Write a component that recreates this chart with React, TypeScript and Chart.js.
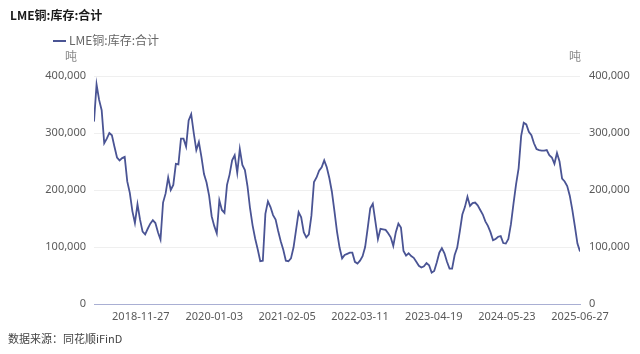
import React, { useEffect, useRef } from 'react';
import { Chart, registerables } from 'chart.js';

Chart.register(...registerables);

// ---- data ----
const startDate = '2018-03-16';
const stepDays = 14;
const inventory = [
  320000, 385000, 358000, 340000, 282000, 290000, 300000, 296000, 276000, 257000,
  252000, 256000, 258000, 215000, 195000, 163000, 142000, 175000, 148000, 127000,
  122000, 132000, 141000, 147000, 142000, 126000, 113000, 178000, 194000, 222000,
  200000, 209000, 246000, 245000, 290000, 290000, 276000, 322000, 333000, 300000,
  270000, 284000, 258000, 228000, 213000, 190000, 154000, 137000, 124000, 182000,
  165000, 160000, 209000, 227000, 252000, 261000, 230000, 272000, 244000, 235000,
  207000, 168000, 138000, 115000, 96000, 75000, 76000, 158000, 180000, 170000,
  156000, 148000, 128000, 110000, 95000, 76000, 75000, 80000, 99000, 130000,
  161000, 152000, 126000, 117000, 122000, 155000, 214000, 222000, 234000, 240000,
  252000, 240000, 221000, 197000, 163000, 127000, 99000, 80000, 86000, 88000,
  90000, 90000, 74000, 71000, 76000, 84000, 100000, 133000, 168000, 176000,
  145000, 114000, 132000, 131000, 130000, 124000, 117000, 102000, 126000, 141000,
  134000, 93000, 85000, 89000, 84000, 81000, 74000, 67000, 64000, 66000,
  72000, 68000, 55000, 58000, 73000, 90000, 98000, 89000, 74000, 62000,
  62000, 86000, 99000, 127000, 157000, 170000, 188000, 172000, 177000, 178000,
  173000, 165000, 157000, 145000, 137000, 126000, 112000, 114000, 118000, 119000,
  107000, 106000, 114000, 140000, 176000, 210000, 238000, 295000, 318000, 315000,
  302000, 296000, 282000, 272000, 270000, 269000, 269000, 270000, 261000, 257000,
  246000, 265000, 250000, 220000, 215000, 207000, 190000, 165000, 136000, 106000,
  92000,
];
const xTickDates = ['2018-11-27', '2020-01-03', '2021-02-05', '2022-03-11', '2023-04-19', '2024-05-23', '2025-06-27'];
const yTickValues = [0, 100000, 200000, 300000, 400000];
const chartTitle = 'LME铜:库存:合计';
const seriesName = 'LME铜:库存:合计';
const unitLabel = '吨';
const sourceLabel = '数据来源：同花顺iFinD';

// ---- helpers ----
const DAY_MS = 86400000;
const toDay = (s: string) => Date.parse(s + 'T00:00:00Z') / DAY_MS;
const fmtDay = (d: number) => new Date(Math.round(d) * DAY_MS).toISOString().slice(0, 10);
const fmtNum = (v: number) => Number(v).toLocaleString('en-US');

const LINE_COLOR = '#4a5494';
const AXIS_COLOR = '#a9afd3';
const GRID_COLOR = '#efefef';
const TICK_COLOR = '#5a5a5a';
const CJK = "'Noto Sans CJK SC', 'Noto Sans', sans-serif";
const LATIN = "'Noto Sans', 'Noto Sans CJK SC', sans-serif";

export default function App() {
  const canvasRef = useRef<HTMLCanvasElement | null>(null);

  useEffect(() => {
    const canvas = canvasRef.current;
    if (!canvas) return;
    const start = toDay(startDate);
    const points = inventory.map((v, i) => ({ x: start + i * stepDays, y: v }));
    const end = points[points.length - 1].x;
    const tickFont = { family: LATIN, size: 11 };

    const chart = new Chart(canvas, {
      type: 'line',
      data: {
        datasets: [
          {
            label: seriesName,
            data: points,
            borderColor: LINE_COLOR,
            backgroundColor: LINE_COLOR,
            borderWidth: 1.8,
            pointRadius: 0,
            tension: 0,
            fill: false,
            yAxisID: 'y',
          },
        ],
      },
      options: {
        animation: false,
        responsive: false,
        maintainAspectRatio: false,
        layout: { padding: { top: 76, left: 0, right: 0, bottom: 0 } },
        plugins: {
          legend: { display: false },
          title: { display: false },
          tooltip: { enabled: false },
        },
        scales: {
          x: {
            type: 'linear',
            min: start,
            max: end,
            grid: { display: false, drawTicks: false },
            border: { display: true, color: AXIS_COLOR, width: 1 },
            ticks: {
              autoSkip: false,
              maxRotation: 0,
              minRotation: 0,
              padding: 6,
              font: tickFont,
              color: TICK_COLOR,
              callback: (v: any) => fmtDay(Number(v)),
            },
            afterBuildTicks: (s: any) => {
              s.ticks = xTickDates.map((d) => ({ value: toDay(d) }));
            },
            afterFit: (s: any) => {
              s.height = 50;
            },
          },
          y: {
            position: 'left',
            min: 0,
            max: 400000,
            grid: { color: GRID_COLOR, drawTicks: false },
            border: { display: false },
            ticks: {
              padding: 8,
              font: tickFont,
              color: TICK_COLOR,
              callback: (v: any) => fmtNum(v),
            },
            afterBuildTicks: (s: any) => {
              s.ticks = yTickValues.map((v) => ({ value: v }));
            },
            afterFit: (s: any) => {
              s.width = 94;
            },
          },
          y2: {
            position: 'right',
            display: true,
            min: 0,
            max: 400000,
            grid: { display: false, drawTicks: false },
            border: { display: false },
            ticks: {
              padding: 9,
              font: tickFont,
              color: TICK_COLOR,
              callback: (v: any) => fmtNum(v),
            },
            afterBuildTicks: (s: any) => {
              s.ticks = yTickValues.map((v) => ({ value: v }));
            },
            afterFit: (s: any) => {
              s.width = 60;
            },
          },
        },
      },
    } as any);

    return () => chart.destroy();
  }, []);

  const text = (style: React.CSSProperties) => ({
    position: 'absolute' as const,
    whiteSpace: 'nowrap' as const,
    lineHeight: '1',
    margin: 0,
    ...style,
  });

  return (
    <div style={{ position: 'fixed', left: 0, top: 0, width: 640, height: 354, background: '#fff', overflow: 'hidden' }}>
      <canvas ref={canvasRef} width={640} height={354} style={{ display: 'block', width: 640, height: 354 }} />
      <div style={text({ left: 10, top: 9, fontFamily: CJK, fontSize: 12, fontWeight: 700, color: '#1a1a1a' })}>{chartTitle}</div>
      <div style={{ position: 'absolute', left: 53, top: 40, width: 13, height: 2, background: LINE_COLOR }} />
      <div style={text({ left: 69, top: 34, fontFamily: CJK, fontSize: 12, color: '#666' })}>{seriesName}</div>
      <div style={text({ left: 65, top: 50, fontFamily: CJK, fontSize: 12, color: '#888' })}>{unitLabel}</div>
      <div style={text({ left: 569, top: 50, fontFamily: CJK, fontSize: 12, color: '#888' })}>{unitLabel}</div>
      <div style={text({ left: 8, top: 333, fontFamily: CJK, fontSize: 11, color: '#444' })}>{sourceLabel}</div>
    </div>
  );
}
